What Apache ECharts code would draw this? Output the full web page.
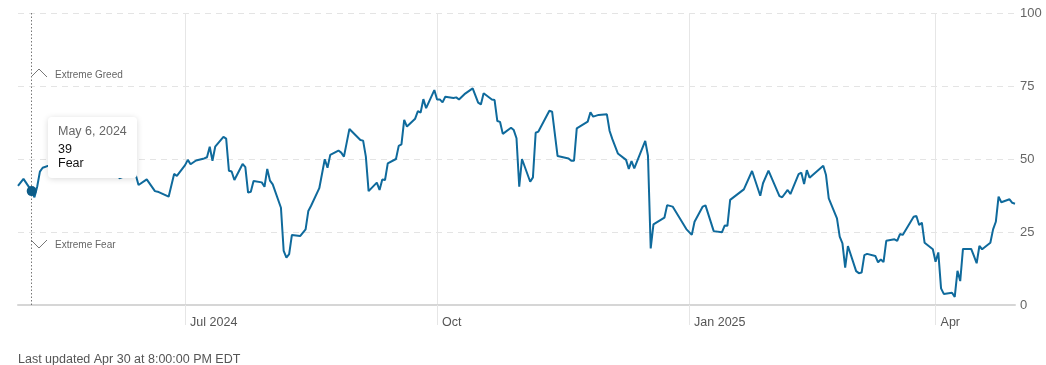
<!DOCTYPE html>
<html>
<head>
<meta charset="utf-8">
<script src="https://cdn.jsdelivr.net/npm/echarts@6/dist/echarts.min.js"></script>
<style>
html,body{margin:0;padding:0;background:#fff;}
#chart{width:1046px;height:365px;}
</style>
</head>
<body>
<div id="chart"></div>
<script>
const dates = [
'2024-05-01','2024-05-03','2024-05-06','2024-05-07','2024-05-08','2024-05-09','2024-05-10','2024-05-13','2024-05-14','2024-05-15',
'2024-05-16','2024-05-17','2024-05-20','2024-05-21','2024-05-22','2024-05-23','2024-05-24','2024-05-28','2024-05-29','2024-05-30',
'2024-05-31','2024-06-03','2024-06-04','2024-06-05','2024-06-06','2024-06-07','2024-06-10','2024-06-11','2024-06-12','2024-06-13',
'2024-06-14','2024-06-17','2024-06-20','2024-06-21','2024-06-25','2024-06-27','2024-06-28','2024-07-01','2024-07-02','2024-07-03',
'2024-07-05','2024-07-08','2024-07-09','2024-07-10','2024-07-11','2024-07-12','2024-07-15','2024-07-16','2024-07-17','2024-07-18',
'2024-07-19','2024-07-22','2024-07-23','2024-07-24','2024-07-25','2024-07-26','2024-07-29','2024-07-30','2024-07-31','2024-08-01',
'2024-08-02','2024-08-05','2024-08-06','2024-08-07','2024-08-08','2024-08-09','2024-08-12','2024-08-14','2024-08-15','2024-08-16',
'2024-08-19','2024-08-21','2024-08-22','2024-08-23','2024-08-26','2024-08-27','2024-08-28','2024-08-30','2024-09-03','2024-09-04',
'2024-09-05','2024-09-06','2024-09-09','2024-09-10','2024-09-11','2024-09-12','2024-09-13','2024-09-16','2024-09-17','2024-09-18',
'2024-09-19','2024-09-20','2024-09-23','2024-09-24','2024-09-25','2024-09-26','2024-09-27','2024-09-30','2024-10-01','2024-10-02',
'2024-10-03','2024-10-04','2024-10-07','2024-10-08','2024-10-09','2024-10-11','2024-10-14','2024-10-16','2024-10-17','2024-10-18',
'2024-10-21','2024-10-22','2024-10-23','2024-10-24','2024-10-25','2024-10-28','2024-10-29','2024-10-30','2024-10-31','2024-11-01',
'2024-11-04','2024-11-05','2024-11-06','2024-11-07','2024-11-11','2024-11-12','2024-11-14','2024-11-18','2024-11-19','2024-11-20',
'2024-11-21','2024-11-25','2024-11-26','2024-11-27','2024-11-29','2024-12-02','2024-12-03','2024-12-04','2024-12-06','2024-12-09',
'2024-12-10','2024-12-11','2024-12-12','2024-12-16','2024-12-17','2024-12-18','2024-12-19','2024-12-23','2024-12-24','2024-12-26',
'2024-12-31','2025-01-02','2025-01-03','2025-01-06','2025-01-07','2025-01-10','2025-01-13','2025-01-14','2025-01-15','2025-01-16',
'2025-01-21','2025-01-24','2025-01-27','2025-01-28','2025-01-30','2025-02-03','2025-02-04','2025-02-06','2025-02-07','2025-02-10',
'2025-02-11','2025-02-12','2025-02-13','2025-02-14','2025-02-19','2025-02-20','2025-02-21','2025-02-24','2025-02-25','2025-02-26',
'2025-02-27','2025-02-28','2025-03-03','2025-03-04','2025-03-05','2025-03-06','2025-03-07','2025-03-10','2025-03-11','2025-03-12',
'2025-03-13','2025-03-14','2025-03-17','2025-03-18','2025-03-19','2025-03-20','2025-03-24','2025-03-25','2025-03-26','2025-03-27',
'2025-03-28','2025-03-31','2025-04-01','2025-04-02','2025-04-03','2025-04-04','2025-04-07','2025-04-08','2025-04-09','2025-04-10',
'2025-04-11','2025-04-14','2025-04-15','2025-04-16','2025-04-17','2025-04-18','2025-04-21','2025-04-22','2025-04-23','2025-04-24',
'2025-04-25','2025-04-28','2025-04-29','2025-04-30'
];
const values = [
40.8,43.2,39,36.9,40.5,45.7,47.0,48,50,55,
54,56,55,54,51,47,49,47,45,45,
47,46,45,48,46,43.4,44.5,46,47,44.5,
41.1,43.0,39.0,38.8,37.1,44.9,44.2,47.9,49.7,48.2,
49.5,50.2,50.6,54.2,49.4,54.2,57.6,57.0,46.0,45.7,
42.8,48.3,47.2,38.5,38.8,42.5,42.0,40.5,46.6,42.6,
41.3,33.3,18.5,16.2,17.4,24.0,23.6,25.9,32.2,34.0,
40.0,49.9,47.0,51.4,52.9,52.2,50.8,60.3,56.5,56.3,
50.8,39.0,41.9,39.4,43.0,42.8,48.5,50.0,54.5,55.0,
63.4,61.1,63.8,66.4,65.9,70.5,67.4,73.6,70.4,70.4,
69.4,71.3,70.9,71.1,70.4,72.2,74.2,69.3,68.7,72.5,
70.4,70.2,63.0,62.7,58.6,60.7,59.9,57.1,40.5,50.0,
42.2,43.7,59.0,59.4,66.5,66.2,51.0,50.2,49.4,49.4,
60.5,62.8,66.0,64.5,65.1,65.3,59.6,56.8,51.9,49.7,
46.6,49.3,46.8,56.2,51.1,19.4,27.6,29.9,34.2,33.7,
26.0,24.0,28.5,33.7,34.1,25.3,24.9,27.2,27.1,36.0,
39.6,45.9,37.4,41.7,46.0,37.3,36.9,39.4,38.0,44.8,
45.3,41.4,46.2,43.6,47.7,44.5,36.5,29.7,23.4,21.1,
12.8,20.2,11.6,10.9,11.1,17.1,17.5,16.8,14.6,15.6,
14.7,22.0,22.5,22.0,24.3,24.0,30.2,30.5,27.4,28.2,
21.3,19.1,14.8,18.0,5.7,3.8,4.2,2.8,11.7,8.2,
19.2,19.2,16.8,14.3,20.2,19.1,21.3,25.9,28.5,37.1,
35.2,36.2,35.0,34.7
];
const xRange = ['2024-05-01', '2025-04-30'];
const xTickDates = ['2024-07-01', '2024-10-01', '2025-01-01', '2025-04-01'];
const xTickLabels = ['Jul 2024', 'Oct', 'Jan 2025', 'Apr'];
const yTicks = [0, 25, 50, 75, 100];
const tipDate = '2024-05-06';
const tipTitle = 'May 6, 2024';
const tipValue = 39;
const tipRating = 'Fear';
const zoneLabels = ['Extreme Greed', 'Extreme Fear'];
const footerText = 'Last updated Apr 30 at 8:00:00 PM EDT';

function toTs(s) { const p = s.split('-').map(Number); return new Date(p[0], p[1] - 1, p[2]).getTime(); }
const tickTs = xTickDates.map(toTs);
const seriesData = dates.map((d, i) => [toTs(d), values[i]]);

const FONT = '"Liberation Sans", Arial, sans-serif';
const LINE = '#0f6a9c';
const chart = echarts.init(document.getElementById('chart'), null, {renderer: 'canvas'});
chart.setOption({
  animation: false,
  textStyle: {fontFamily: FONT},
  grid: {left: 18, right: 31, top: 13, bottom: 60, containLabel: false},
  xAxis: {
    type: 'value',
    min: toTs(xRange[0]), max: toTs(xRange[1]),
    axisLine: {show: true, lineStyle: {color: '#d6d6d6', width: 2}},
    axisTick: {show: true, customValues: tickTs, length: 20, lineStyle: {color: '#e6e6e6', width: 1}},
    axisLabel: {
      customValues: tickTs,
      formatter: v => { const i = tickTs.indexOf(v); return i >= 0 ? xTickLabels[i] : ''; },
      align: 'left', padding: [0, 0, 0, 5], margin: 11,
      color: '#555', fontSize: 12.5, fontFamily: FONT
    },
    splitLine: {show: true, lineStyle: {color: '#e6e6e6', width: 1}}
  },
  yAxis: {
    type: 'value', position: 'right', min: yTicks[0], max: yTicks[yTicks.length - 1], interval: 25,
    axisLine: {show: false}, axisTick: {show: false},
    axisLabel: {margin: 5, color: '#666', fontSize: 13, fontFamily: FONT},
    splitLine: {show: true, lineStyle: {color: '#e4e4e4', width: 1, type: [6, 5]}}
  },
  series: [
    {
      type: 'line', data: seriesData, showSymbol: false, symbol: 'none',
      lineStyle: {color: LINE, width: 2}, z: 3
    },
    {
      type: 'scatter', data: [[toTs(tipDate), tipValue]], symbol: 'circle', symbolSize: 10,
      itemStyle: {color: '#0d5c88', opacity: 1}, z: 10,
      markLine: {
        silent: true, symbol: 'none', label: {show: false}, z: 2,
        lineStyle: {color: '#777', type: [1.5, 2], width: 1},
        data: [{xAxis: toTs(tipDate)}]
      }
    }
  ],
  graphic: [
    {type: 'polyline', z: 50, shape: {points: [[31, 77], [39, 69], [47, 77]]}, style: {stroke: '#777', lineWidth: 1, fill: null}},
    {type: 'text', z: 50, left: 55, top: 70, style: {text: zoneLabels[0], fill: '#666', font: '10px ' + FONT}},
    {type: 'polyline', z: 50, shape: {points: [[31, 240], [39, 248], [47, 240]]}, style: {stroke: '#777', lineWidth: 1, fill: null}},
    {type: 'text', z: 50, left: 55, top: 240, style: {text: zoneLabels[1], fill: '#666', font: '10px ' + FONT}},
    {type: 'rect', z: 60, shape: {x: 48, y: 117, width: 89, height: 61, r: 4},
      style: {fill: '#fff', shadowBlur: 6, shadowColor: 'rgba(0,0,0,0.15)', shadowOffsetY: 1}},
    {type: 'text', z: 61, left: 58, top: 125, style: {text: tipTitle, fill: '#666', font: '12.5px ' + FONT}},
    {type: 'text', z: 61, left: 58, top: 143, style: {text: String(tipValue), fill: '#111', font: '12.5px ' + FONT}},
    {type: 'text', z: 61, left: 58, top: 157, style: {text: tipRating, fill: '#111', font: '12.5px ' + FONT}},
    {type: 'text', z: 50, left: 18, top: 353, style: {text: footerText, fill: '#555', font: '12.5px ' + FONT}}
  ]
});
</script>
</body>
</html>
